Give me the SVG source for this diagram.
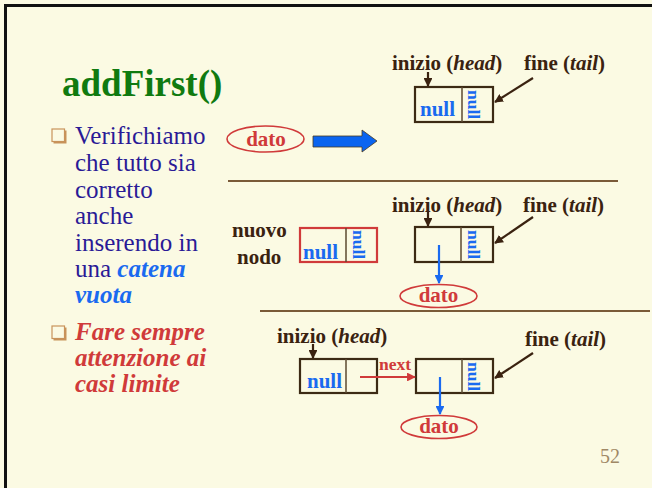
<svg xmlns="http://www.w3.org/2000/svg" width="652" height="488" viewBox="0 0 652 488" font-family="Liberation Serif, Times New Roman, serif">
  <defs>
    <style>
      .box { fill: none; stroke: #3C2A14; stroke-width: 2.2; }
      .div { stroke: #5C4A30; stroke-width: 1.5; }
      .ptr { stroke: #3A2210; stroke-width: 2.2; fill: none; }
      .ell { fill: none; stroke: #D03A3A; stroke-width: 1.6; }
      .blue { stroke: #1A6AF0; stroke-width: 2.2; fill: none; }
      .sep { stroke: #7A5A38; stroke-width: 2; }
    </style>
    <marker id="ahDark" viewBox="0 0 10 10" refX="9" refY="5" markerWidth="4" markerHeight="4" orient="auto" markerUnits="strokeWidth">
      <path d="M0,0 L10,5 L0,10 z" fill="#3A2210"/>
    </marker>
    <marker id="ahBlue" viewBox="0 0 10 10" refX="9" refY="5" markerWidth="4" markerHeight="4" orient="auto" markerUnits="strokeWidth">
      <path d="M0,0 L10,5 L0,10 z" fill="#1A6AF0"/>
    </marker>
    <marker id="ahRed" viewBox="0 0 10 10" refX="9" refY="5" markerWidth="4" markerHeight="4" orient="auto" markerUnits="strokeWidth">
      <path d="M0,0 L10,5 L0,10 z" fill="#D03A3A"/>
    </marker>
    <g id="bullet">
      <rect x="1.5" y="1.5" width="13" height="13" fill="#C8935A"/>
      <rect x="0" y="0" width="12.5" height="12.5" fill="#FBFAE3" stroke="#C8935A" stroke-width="1.2"/>
    </g>
  </defs>

  <!-- slide background and frame -->
  <rect width="652" height="488" fill="#FBFAE3"/>
  <polyline points="5.5,488 5.5,5.5 652,5.5" fill="none" stroke="#111" stroke-width="3"/>

  <!-- title -->
  <text x="62" y="96" font-weight="bold" font-size="37" fill="#107A10">addFirst()</text>

  <!-- bullet text -->
  <g id="bullets">
    <use href="#bullet" x="52" y="129"/>
    <use href="#bullet" x="52" y="326"/>
    <g font-size="25" fill="#2A1A96">
      <text x="75" y="144">Verifichiamo</text>
      <text x="75" y="171">che tutto sia</text>
      <text x="75" y="198">corretto</text>
      <text x="75" y="224">anche</text>
      <text x="75" y="251">inserendo in</text>
      <text x="75" y="277">una <tspan font-weight="bold" font-style="italic" fill="#1A6AF0">catena</tspan></text>
      <text x="75" y="303" font-weight="bold" font-style="italic" fill="#1A6AF0">vuota</text>
    </g>
    <g font-size="25" font-weight="bold" font-style="italic" fill="#D03A3A">
      <text x="75" y="340">Fare sempre</text>
      <text x="75" y="366">attenzione ai</text>
      <text x="75" y="392">casi limite</text>
    </g>
  </g>

  <!-- separators -->
  <line class="sep" x1="228" y1="181" x2="618" y2="181"/>
  <line class="sep" x1="260" y1="311" x2="650" y2="311"/>

  <!-- row 1: data item and empty list -->
  <g id="dato1">
    <ellipse class="ell" cx="265.5" cy="139" rx="38.5" ry="13"/>
    <text x="266" y="146" text-anchor="middle" font-weight="bold" font-size="21" fill="#D03A3A">dato</text>
  </g>
  <g id="bigArrow">
    <polygon points="313,136 362,136 362,130 377,141 362,152 362,147 313,147" fill="#0A64F0" stroke="#4A3A20" stroke-width="0.8"/>
  </g>
  <g id="labels1" font-weight="bold" font-size="21" fill="#3A2210">
    <text x="392" y="70">inizio (<tspan font-style="italic">head</tspan>)</text>
    <text x="524" y="70">fine (<tspan font-style="italic">tail</tspan>)</text>
  </g>
  <g id="node1" font-weight="bold" fill="#1A6AF0">
    <rect class="box" x="415" y="87" width="78" height="35"/>
    <line class="div" x1="462" y1="87" x2="462" y2="122"/>
    <text x="420" y="116" font-size="21">null</text>
    <text font-size="17.5" transform="translate(468,90) rotate(90)">null</text>
  </g>

  <!-- row 2: new node and list with one element -->
  <g id="nuovoNodo" font-weight="bold" font-size="21" fill="#3A2210">
    <text x="232" y="237">nuovo</text>
    <text x="237" y="264">nodo</text>
  </g>
  <g id="newNode" font-weight="bold" fill="#1A6AF0">
    <rect x="300" y="228" width="77" height="34" fill="none" stroke="#D03A3A" stroke-width="2.2"/>
    <line class="div" x1="346" y1="228" x2="346" y2="262"/>
    <text x="303" y="259" font-size="21">null</text>
    <text font-size="17.5" transform="translate(353,230) rotate(90)">null</text>
  </g>
  <g id="labels2" font-weight="bold" font-size="21" fill="#3A2210">
    <text x="392" y="212">inizio (<tspan font-style="italic">head</tspan>)</text>
    <text x="523" y="212">fine (<tspan font-style="italic">tail</tspan>)</text>
  </g>
  <g id="node2" font-weight="bold" fill="#1A6AF0">
    <rect class="box" x="415" y="227" width="78" height="35"/>
    <line class="div" x1="461" y1="227" x2="461" y2="262"/>
    <text font-size="17.5" transform="translate(468,230) rotate(90)">null</text>
  </g>
  <g id="dato2">
    <ellipse class="ell" cx="438.5" cy="296" rx="38.5" ry="11.5"/>
    <text x="438.5" y="302" text-anchor="middle" font-weight="bold" font-size="21" fill="#D03A3A">dato</text>
  </g>

  <!-- row 3: list with two elements -->
  <g id="labels3" font-weight="bold" font-size="21" fill="#3A2210">
    <text x="277" y="343">inizio (<tspan font-style="italic">head</tspan>)</text>
    <text x="525" y="346">fine (<tspan font-style="italic">tail</tspan>)</text>
  </g>
  <g id="node3a" font-weight="bold" fill="#1A6AF0">
    <rect class="box" x="300" y="359" width="77" height="34"/>
    <line class="div" x1="346" y1="359" x2="346" y2="393"/>
    <text x="307" y="388" font-size="21">null</text>
  </g>
  <g id="node3b" font-weight="bold" fill="#1A6AF0">
    <rect class="box" x="416" y="359" width="77" height="34"/>
    <line class="div" x1="462" y1="359" x2="462" y2="393"/>
    <text font-size="17.5" transform="translate(468,362) rotate(90)">null</text>
  </g>
  <g id="dato3">
    <ellipse class="ell" cx="439" cy="427" rx="38" ry="11.5"/>
    <text x="439" y="433" text-anchor="middle" font-weight="bold" font-size="21" fill="#D03A3A">dato</text>
  </g>

  <!-- connectors -->
  <g id="connectors">
    <line class="ptr" x1="428" y1="72" x2="428" y2="86" marker-end="url(#ahDark)"/>
    <line class="ptr" x1="533" y1="78" x2="495" y2="102" marker-end="url(#ahDark)"/>
    <line class="ptr" x1="428" y1="212" x2="428" y2="226" marker-end="url(#ahDark)"/>
    <line class="ptr" x1="533" y1="217" x2="495" y2="243" marker-end="url(#ahDark)"/>
    <line class="blue" x1="439" y1="245" x2="439" y2="283" marker-end="url(#ahBlue)"/>
    <line class="ptr" x1="313" y1="344" x2="313" y2="358" marker-end="url(#ahDark)"/>
    <line class="ptr" x1="533" y1="353" x2="495" y2="378" marker-end="url(#ahDark)"/>
    <line x1="360" y1="377" x2="415" y2="377" stroke="#D03A3A" stroke-width="2.2" marker-end="url(#ahRed)"/>
    <line class="blue" x1="440" y1="377" x2="440" y2="414" marker-end="url(#ahBlue)"/>
    <text x="379" y="370" font-weight="bold" font-size="17.5" fill="#D03A3A">next</text>
  </g>

  <!-- page number -->
  <text x="600" y="463" font-size="20" fill="#A08866">52</text>
</svg>
